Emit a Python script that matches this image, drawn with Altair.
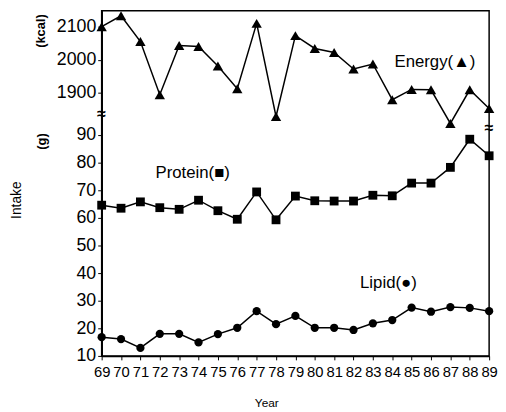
import altair as alt
import pandas as pd

years = list(range(69, 90))
energy = [2100, 2133, 2055, 1894, 2043, 2040, 1981, 1912, 2110, 1828, 2073,
          2034, 2022, 1972, 1987, 1879, 1910, 1909, 1807, 1909, 1852]
protein = [64.6, 63.5, 65.8, 63.7, 63.1, 66.4, 62.6, 59.5, 69.4, 59.3, 67.9,
           66.2, 66.1, 66.1, 68.2, 68.0, 72.6, 72.6, 78.3, 88.5, 82.5]
lipid = [16.8, 16.1, 12.9, 18.0, 18.0, 14.9, 17.9, 20.2, 26.2, 21.5, 24.5,
         20.2, 20.2, 19.4, 21.8, 23.0, 27.5, 26.0, 27.7, 27.4, 26.2]
energy_ticks = [1900, 2000, 2100]
intake_ticks = [10, 20, 30, 40, 50, 60, 70, 80, 90]

SANS = "'Liberation Sans', Arial, sans-serif"

df_e = pd.DataFrame({"year": years, "energy": energy})
df_p = pd.DataFrame({"year": years, "g": protein})
df_l = pd.DataFrame({"year": years, "g": lipid})

X = alt.X("year:Q",
          scale=alt.Scale(domain=[69, 89], nice=False, zero=False),
          axis=alt.Axis(values=years, format="d", labelOverlap=False, labelFlush=False,
                        grid=False, labelFont=SANS, labelFontSize=15, labelPadding=5,
                        title="Year", titleFont=SANS, titleFontSize=12,
                        titleFontWeight="normal", titleX=167, titleY=47,
                        titleBaseline="middle", titleAlign="center"))

Ye = alt.Y("energy:Q",
           scale=alt.Scale(domain=[1103, 2148], nice=False, zero=False),
           axis=alt.Axis(orient="left", values=energy_ticks, format="d", grid=False,
                         labelFont=SANS, labelFontSize=18, labelPadding=2,
                         title="(kcal)", titleFont=SANS, titleFontSize=13,
                         titleFontWeight="bold", titleAngle=270, titleX=-62, titleY=20,
                         titleAlign="center", titleBaseline="middle"))

Yg = alt.Y("g:Q",
           scale=alt.Scale(domain=[10, 135], nice=False, zero=False),
           axis=alt.Axis(orient="left", values=intake_ticks, format="d", grid=False,
                         labelFont=SANS, labelFontSize=18, labelPadding=2,
                         title="(g)", titleFont=SANS, titleFontSize=13,
                         titleFontWeight="bold", titleAngle=270, titleX=-61, titleY=132,
                         titleAlign="center", titleBaseline="middle"))

def line(df, y):
    return alt.Chart(df).mark_line(color="black", strokeWidth=1.5).encode(x=X, y=y)

def pts(df, y, shape, size):
    return alt.Chart(df).mark_point(shape=shape, filled=True, color="black",
                                    size=size, opacity=1).encode(x=X, y=y)

label_e = pd.DataFrame({"year": [86.2], "energy": [1992], "t": ["Energy(▲)"]})
label_p = pd.DataFrame({"year": [73.7], "g": [76.1], "t": ["Protein(■)"]})
label_l = pd.DataFrame({"year": [83.8], "g": [36.4], "t": ["Lipid(●)"]})

def lab(df, y):
    return alt.Chart(df).mark_text(font=SANS, fontSize=17, color="black",
                                   align="center", baseline="middle").encode(
        x=X, y=y, text="t:N")

energy_layer = alt.layer(line(df_e, Ye), pts(df_e, Ye, "triangle-up", 110), lab(label_e, Ye))
nut_layer = alt.layer(line(df_p, Yg), pts(df_p, Yg, "square", 80),
                      line(df_l, Yg), pts(df_l, Yg, "circle", 70),
                      lab(label_p, Yg), lab(label_l, Yg))

deco = pd.DataFrame({"t": ["Intake"]})
intake = alt.Chart(deco).mark_text(font=SANS, fontSize=14, color="black",
                                   align="center", baseline="middle").encode(
    x=alt.value(-86), y=alt.value(192), angle=alt.value(270), text="t:N")

brk = pd.DataFrame({"t": ["≈"]})
brk_left = alt.Chart(brk).mark_text(fontSize=16, fontWeight="bold", color="black",
                                    align="center", baseline="middle").encode(
    x=alt.value(0), y=alt.value(105), text="t:N")
brk_right = alt.Chart(brk).mark_text(fontSize=16, fontWeight="bold", color="black",
                                     align="center", baseline="middle").encode(
    x=alt.value(393), y=alt.value(119), text="t:N")

chart = alt.layer(energy_layer, nut_layer, intake, brk_left, brk_right).resolve_scale(
    y="independent"
).properties(
    width=393, height=350, autosize="none",
    padding={"left": 95, "top": 0, "right": 9, "bottom": 54},
).configure_view(
    stroke="black", strokeWidth=1.5
).configure_axis(
    domainColor="black", domainWidth=1.5, tickColor="black", tickSize=4,
    labelColor="black", titleColor="black"
)

chart.save("out.html", embed_options={"renderer": "svg", "actions": False})
